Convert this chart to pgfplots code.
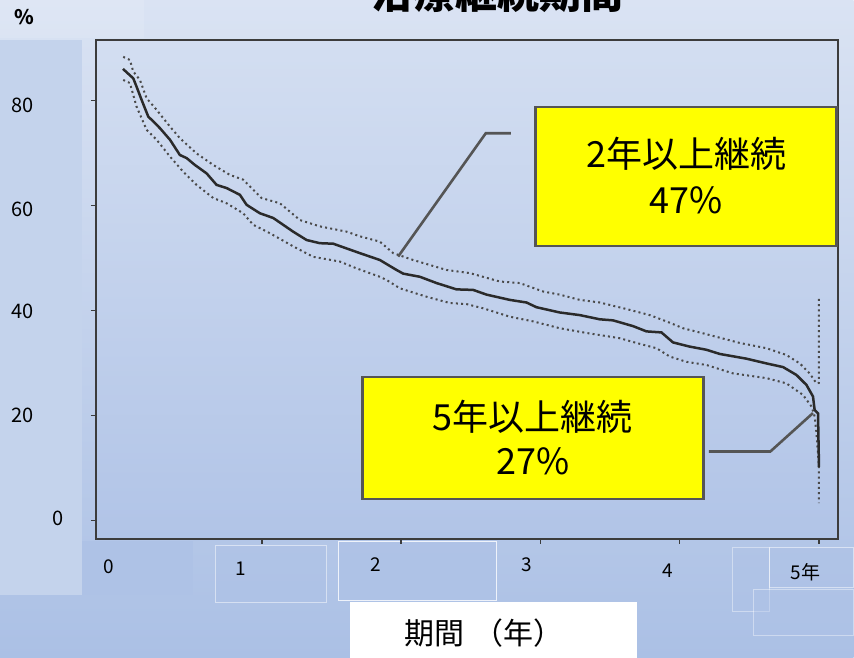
\documentclass[border=0pt]{standalone}
\usepackage{fontspec}
\setmainfont{Noto Sans CJK JP}
\usepackage{pgfplots}
\pgfplotsset{compat=1.18}
\definecolor{bgtop}{HTML}{DAE3F3}
\definecolor{bgbot}{HTML}{ABC0E5}
\definecolor{plottop}{HTML}{D3DEF1}
\definecolor{plotbot}{HTML}{B1C4E7}
\definecolor{leftstrip}{HTML}{C4D3EC}
\definecolor{boxc}{HTML}{AEC2E6}
\definecolor{framec}{HTML}{3C3C3C}
\definecolor{dotc}{HTML}{4A4A4A}
\definecolor{linec}{HTML}{2A2A2A}
\definecolor{callc}{HTML}{555555}
\definecolor{ybox}{HTML}{FFFF00}

\pgfplotstableread{
x y
0.000 86.0
0.074 84.2
0.098 82.6
0.134 80.1
0.182 76.9
0.206 76.3
0.266 74.7
0.338 72.5
0.409 69.6
0.458 69.0
0.517 67.7
0.601 66.1
0.673 63.9
0.745 63.3
0.841 62.0
0.889 60.1
0.984 58.5
1.080 57.6
1.223 55.0
1.320 53.4
1.415 52.8
1.511 52.7
1.607 51.8
1.703 50.9
1.846 49.6
1.966 47.7
2.014 47.0
2.134 46.4
2.254 45.2
2.397 44.0
2.517 43.9
2.613 43.0
2.780 42.0
2.900 41.5
2.972 40.6
3.139 39.6
3.283 39.1
3.427 38.3
3.522 38.1
3.666 37.0
3.762 36.0
3.870 35.8
3.953 33.9
4.073 33.1
4.193 32.5
4.289 31.7
4.481 30.8
4.624 29.9
4.744 29.2
4.840 27.7
4.912 25.8
4.959 23.6
4.971 21.0
4.995 20.4
5.002 10.2
}\kmtable

\pgfplotstableread{
x y
0.002 88.3
0.050 87.7
0.074 85.5
0.122 83.9
0.170 80.4
0.242 78.2
0.338 75.0
0.409 72.8
0.529 69.9
0.649 67.7
0.769 65.8
0.864 64.9
0.996 61.4
1.128 60.4
1.272 57.2
1.415 56.0
1.607 55.0
1.703 54.1
1.846 53.1
1.942 50.9
2.085 49.6
2.325 47.7
2.493 47.1
2.708 45.5
2.852 45.2
3.019 43.6
3.139 43.0
3.283 42.0
3.427 41.5
3.642 40.1
3.786 39.1
3.906 37.9
4.025 36.6
4.217 35.3
4.432 33.8
4.624 32.8
4.768 31.5
4.864 29.9
4.935 28.0
4.984 26.1
5.002 26.2
5.002 42.3
}\uppertable

\pgfplotstableread{
x y
0.002 83.9
0.050 83.3
0.098 78.8
0.170 74.4
0.242 72.5
0.338 69.3
0.433 66.4
0.529 63.9
0.649 61.4
0.745 60.4
0.864 58.5
0.936 56.3
1.056 54.7
1.223 52.2
1.367 50.2
1.559 49.3
1.679 48.0
1.846 46.4
1.894 45.8
1.990 44.2
2.182 42.6
2.349 41.4
2.469 41.2
2.588 40.4
2.780 38.8
2.948 37.9
3.139 36.6
3.331 35.7
3.427 35.3
3.570 34.7
3.690 33.8
3.834 32.8
3.930 31.2
4.050 30.2
4.193 29.6
4.384 28.0
4.624 27.1
4.768 26.1
4.887 23.9
4.948 21.7
4.971 19.8
4.984 16.6
5.002 10.2
5.002 3.3
}\lowertable

\begin{document}
\begin{tikzpicture}
% background (pixel coordinates, y downward)
\begin{scope}[x=0.5pt,y=-0.5pt]
  \shade[top color=bgtop,bottom color=bgbot] (0,0) rectangle (854,658);
  \fill[white,opacity=0.12] (0,0) rectangle (144,38);
  \fill[leftstrip] (0,40) rectangle (82,595);
  \fill[boxc] (82,541) rectangle (193,595);
  \draw[white,opacity=0.5,fill=boxc] (215,546) rectangle (327,603);
  \draw[white,opacity=0.8,line width=0.6pt,fill=boxc] (339,542) rectangle (497,601);
  \draw[white,opacity=0.4,fill=boxc] (733,548) rectangle (770,612);
  \draw[white,opacity=0.4,fill=boxc] (754,590) rectangle (854,636);
  \draw[white,opacity=0.5,fill=boxc] (770,548) rectangle (854,588);
  \fill[white] (350,602) rectangle (637,658);
\end{scope}

\begin{axis}[
  at={(48pt,-269.5pt)}, anchor=south west,
  scale only axis, width=371pt, height=249.5pt,
  xmin=-0.194, xmax=5.136, ymin=-3.5, ymax=91.5,
  xtick={1,2,3,4,5}, ytick={0,20,40,60,80},
  xticklabels={{},{},{},{},{}}, yticklabels={{},{},{},{},{}},
  xtick pos=bottom, ytick pos=left,
  tick align=outside, major tick length=2.5pt,
  tick style={color=framec, line width=0.8pt},
  axis line style={draw=framec, line width=1.1pt},
  axis background/.style={shade, top color=plottop, bottom color=plotbot},
]
\addplot[dotc, line width=1pt, dash pattern=on 1pt off 1.6pt] table[x=x,y=y] {\uppertable};
\addplot[dotc, line width=1pt, dash pattern=on 1pt off 1.6pt] table[x=x,y=y] {\lowertable};
\addplot[linec, line width=1.25pt] table[x=x,y=y] {\kmtable};
\end{axis}

\begin{scope}[x=0.5pt,y=-0.5pt]
  % title (cut off by the page top, as in the reference)
  \node[overlay, anchor=base, font=\bfseries\fontsize{21}{25}\selectfont] at (498,9) {治療継続期間};
  \node[font=\bfseries\fontsize{10}{12}\selectfont] at (24.5,17.5) {\%};
  % y tick labels
  \begin{scope}[every node/.style={font=\fontsize{10}{12}\selectfont}]
    \node at (23,105) {80};
    \node at (23,209) {60};
    \node at (23,312) {40};
    \node at (23,416) {20};
    \node at (58,519) {0};
  \end{scope}
  % x tick labels
  \begin{scope}[every node/.style={font=\fontsize{9.5}{11}\selectfont}]
    \node at (109,566.5) {0};
    \node at (241,569) {1};
    \node at (376,565) {2};
    \node at (527.5,564.5) {3};
    \node at (668,571) {4};
    \node at (806,572.5) {5年};
  \end{scope}
  \node[font=\fontsize{15}{17}\selectfont] at (484,633) {期間\hspace{0.3em}（年）};
  % callouts
  \draw[callc, line width=1.3pt] (398.3,256.7) -- (486,133.3) -- (511,133.3);
  \draw[callc, line width=1.3pt] (813.3,413.3) -- (770.7,451.7) -- (709.3,451.7);
  \draw[fill=ybox, draw=callc, line width=1.3pt] (536,107) rectangle (837,246);
  \node[align=center, font=\fontsize{18}{22.75}\selectfont] at (686.5,175.5) {2年以上継続\\47\%};
  \draw[fill=ybox, draw=callc, line width=1.3pt] (362.7,377.3) rectangle (704,499.3);
  \node[align=center, font=\fontsize{18}{22}\selectfont] at (533,438) {5年以上継続\\27\%};
\end{scope}
\end{tikzpicture}
\end{document}
